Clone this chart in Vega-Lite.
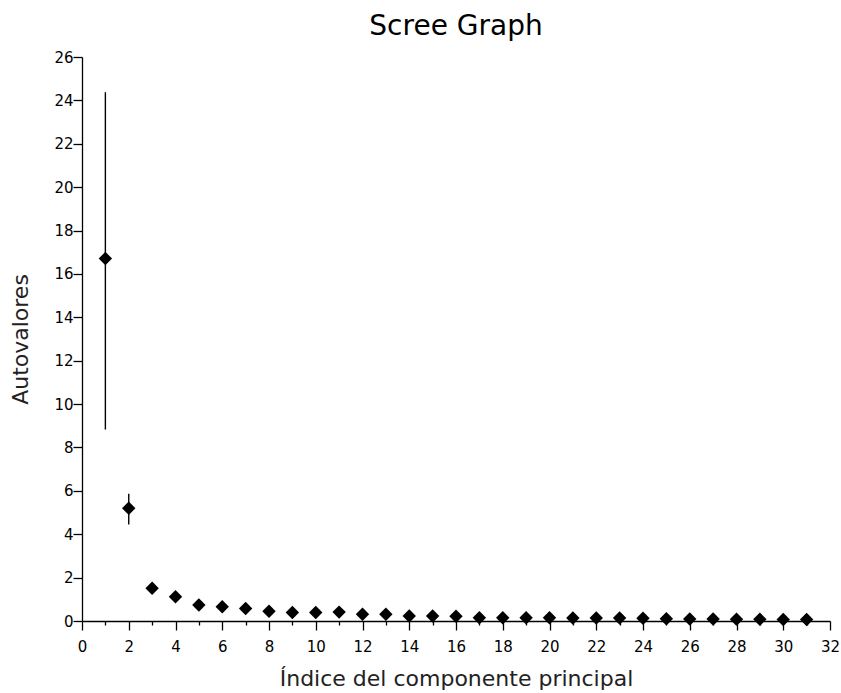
{
  "$schema": "https://vega.github.io/schema/vega-lite/v6.json",
  "autosize": "none",
  "width": 748,
  "height": 564,
  "padding": {"left": 82, "top": 57, "right": 11, "bottom": 72},
  "background": "white",
  "title": {
    "text": "Scree Graph",
    "font": "DejaVu Sans",
    "fontSize": 28,
    "fontWeight": "normal",
    "color": "#000000",
    "anchor": "middle",
    "baseline": "alphabetic",
    "offset": -13
  },
  "config": {
    "view": {"stroke": null},
    "axis": {
      "grid": false,
      "domainColor": "#000000",
      "domainWidth": 1.3,
      "tickColor": "#000000",
      "tickWidth": 1.3,
      "labelFont": "DejaVu Sans",
      "labelFontSize": 15,
      "labelColor": "#000000",
      "titleFont": "DejaVu Sans",
      "titleFontSize": 22,
      "titleFontWeight": "normal",
      "titleColor": "#222222"
    }
  },
  "data": {
    "values": [
      {"x": 1, "y": 16.71, "lo": 8.83, "hi": 24.38},
      {"x": 2, "y": 5.2, "lo": 4.45, "hi": 5.87},
      {"x": 3, "y": 1.51, "lo": 1.3, "hi": 1.72},
      {"x": 4, "y": 1.12, "lo": 0.96, "hi": 1.28},
      {"x": 5, "y": 0.74, "lo": 0.64, "hi": 0.84},
      {"x": 6, "y": 0.66, "lo": 0.57, "hi": 0.75},
      {"x": 7, "y": 0.58, "lo": 0.5, "hi": 0.66},
      {"x": 8, "y": 0.45, "lo": 0.39, "hi": 0.51},
      {"x": 9, "y": 0.39, "lo": 0.34, "hi": 0.44},
      {"x": 10, "y": 0.39, "lo": 0.34, "hi": 0.44},
      {"x": 11, "y": 0.41, "lo": 0.36, "hi": 0.46},
      {"x": 12, "y": 0.31, "lo": 0.27, "hi": 0.35},
      {"x": 13, "y": 0.31, "lo": 0.27, "hi": 0.35},
      {"x": 14, "y": 0.23, "lo": 0.2, "hi": 0.26},
      {"x": 15, "y": 0.23, "lo": 0.2, "hi": 0.26},
      {"x": 16, "y": 0.22, "lo": 0.19, "hi": 0.25},
      {"x": 17, "y": 0.15, "lo": 0.13, "hi": 0.17},
      {"x": 18, "y": 0.15, "lo": 0.13, "hi": 0.17},
      {"x": 19, "y": 0.15, "lo": 0.13, "hi": 0.17},
      {"x": 20, "y": 0.15, "lo": 0.13, "hi": 0.17},
      {"x": 21, "y": 0.14, "lo": 0.12, "hi": 0.16},
      {"x": 22, "y": 0.14, "lo": 0.12, "hi": 0.16},
      {"x": 23, "y": 0.14, "lo": 0.12, "hi": 0.16},
      {"x": 24, "y": 0.13, "lo": 0.11, "hi": 0.15},
      {"x": 25, "y": 0.1, "lo": 0.09, "hi": 0.11},
      {"x": 26, "y": 0.09, "lo": 0.08, "hi": 0.1},
      {"x": 27, "y": 0.09, "lo": 0.08, "hi": 0.1},
      {"x": 28, "y": 0.08, "lo": 0.07, "hi": 0.09},
      {"x": 29, "y": 0.08, "lo": 0.07, "hi": 0.09},
      {"x": 30, "y": 0.07, "lo": 0.06, "hi": 0.08},
      {"x": 31, "y": 0.07, "lo": 0.06, "hi": 0.08}
    ]
  },
  "encoding": {
    "x": {
      "field": "x",
      "type": "quantitative",
      "scale": {"domain": [0, 32], "nice": false, "zero": false},
      "axis": {
        "title": "Índice del componente principal",
        "values": [0,1,2,3,4,5,6,7,8,9,10,11,12,13,14,15,16,17,18,19,20,21,22,23,24,25,26,27,28,29,30,31,32],
        "labelExpr": "datum.value % 2 === 0 ? datum.label : ''",
        "tickSize": {"condition": {"test": "datum.value % 2 === 0", "value": 9}, "value": 4},
        "labelPadding": 9,
        "titlePadding": 14,
        "labelFlush": false,
        "labelOverlap": false
      }
    }
  },
  "layer": [
    {
      "mark": {"type": "rule", "color": "#000000", "strokeWidth": 1.4},
      "encoding": {
        "y": {
          "field": "lo",
          "type": "quantitative",
          "scale": {"domain": [0, 26], "nice": false},
          "axis": {
            "title": "Autovalores",
            "values": [0,1,2,3,4,5,6,7,8,9,10,11,12,13,14,15,16,17,18,19,20,21,22,23,24,25,26],
            "labelExpr": "datum.value % 2 === 0 ? datum.label : ''",
            "tickSize": {"condition": {"test": "datum.value % 2 === 0", "value": 9}, "value": 5},
            "labelPadding": 0,
            "titlePadding": 21,
            "labelFlush": false,
            "labelOverlap": false
          }
        },
        "y2": {"field": "hi"}
      }
    },
    {
      "mark": {"type": "point", "shape": "diamond", "filled": true, "color": "#000000", "opacity": 1, "size": 180},
      "encoding": {
        "y": {"field": "y", "type": "quantitative"}
      }
    }
  ]
}
